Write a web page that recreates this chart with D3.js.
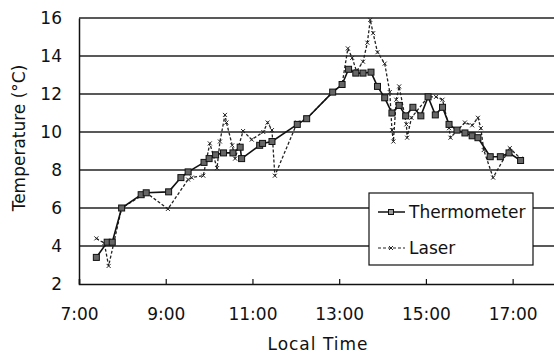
<!DOCTYPE html>
<html>
<head>
<meta charset="utf-8">
<script src="https://cdn.jsdelivr.net/npm/d3@7/dist/d3.min.js"></script>
<style>
  body { margin: 0; background: #fff; }
  svg text { font-family: "DejaVu Sans", sans-serif; fill: #111; }
</style>
</head>
<body>
<div id="chart"></div>
<script>
// readings, local time "h:mm" and temperature in degC
var thermoTimes = ["7:24","7:39","7:46","7:59","8:26","8:33","9:04","9:21","9:31","9:53",
  "10:00","10:09","10:20","10:33","10:43","10:45","11:10","11:14","11:27","12:02",
  "12:15","12:51","13:04","13:13","13:23","13:33","13:44","13:53","14:03","14:13",
  "14:23","14:32","14:42","14:53","15:03","15:13","15:23","15:32","15:43","15:54",
  "16:04","16:12","16:29","16:43","16:55","17:11"];
var thermoTemps = [3.4, 4.2, 4.2, 6.0, 6.7, 6.8, 6.85, 7.6, 7.9, 8.4,
  8.6, 8.8, 8.9, 8.9, 9.2, 8.6, 9.3, 9.4, 9.5, 10.4,
  10.7, 12.1, 12.5, 13.3, 13.1, 13.1, 13.15, 12.4, 11.8, 11.0,
  11.4, 10.85, 11.3, 10.85, 11.85, 10.9, 11.3, 10.4, 10.1, 9.95,
  9.8, 9.7, 8.7, 8.7, 8.9, 8.5];

var laserTimes = ["7:24","7:35","7:41","7:59","8:33","9:03","9:31","9:36","9:52","10:01",
  "10:11","10:15","10:22","10:24","10:32","10:36","10:47","10:59","11:15","11:21",
  "11:27","11:31","12:02","12:15","12:51","13:04","13:12","13:18","13:24","13:33",
  "13:39","13:43","13:47","13:53","14:03","14:10","14:13","14:15","14:19","14:23",
  "14:33","14:34","14:40","15:03","15:14","15:23","15:32","15:34","15:54","16:04",
  "16:12","16:16","16:20","16:33","16:56","17:11"];
var laserTemps = [4.4, 4.15, 2.95, 6.0, 6.8, 5.95, 7.5, 7.6, 7.7, 9.4,
  8.1, 9.5, 10.9, 10.5, 9.3, 8.6, 10.05, 9.6, 10.0, 10.5,
  10.1, 7.7, 10.5, 10.7, 12.1, 12.5, 14.4, 13.9, 13.2, 13.7,
  14.7, 15.9, 15.2, 14.2, 13.6, 12.1, 10.1, 9.5, 11.7, 12.4,
  10.4, 9.7, 10.75, 11.85, 11.85, 11.7, 10.2, 9.7, 10.5, 10.35,
  10.75, 10.2, 9.05, 7.6, 9.15, 8.6];

var xTickHours = [7, 9, 11, 13, 15, 17];
var yTicks = [2, 4, 6, 8, 10, 12, 14, 16];

function toHours(s) {
  var p = s.split(":");
  return +p[0] + (+p[1]) / 60;
}

var thermo = thermoTimes.map(function(t, i) { return {h: toHours(t), v: thermoTemps[i]}; });
var laser = laserTimes.map(function(t, i) { return {h: toHours(t), v: laserTemps[i]}; });

var width = 554, height = 356;
var margin = {left: 79, top: 18, bottom: 284, right: 556};

var svg = d3.select("#chart").append("svg")
  .attr("width", width)
  .attr("height", height);

var x = d3.scaleLinear().domain([7, 18]).range([margin.left, margin.right]);
var y = d3.scaleLinear().domain([2, 16]).range([margin.bottom, margin.top]);

// gridlines
svg.append("g")
  .selectAll("line")
  .data(yTicks.filter(function(d) { return d > 2; }))
  .enter()
  .append("line")
  .attr("x1", margin.left).attr("x2", width)
  .attr("y1", function(d) { return y(d); })
  .attr("y2", function(d) { return y(d); })
  .attr("stroke", "#222")
  .attr("stroke-width", 1.3);

// y axis
var yAxis = svg.append("g")
  .attr("transform", "translate(" + margin.left + ",0)")
  .call(d3.axisLeft(y).tickValues(yTicks).tickSize(0).tickPadding(17));
yAxis.select(".domain").attr("stroke", "#111").attr("stroke-width", 1.5);
yAxis.selectAll("text").attr("font-size", 17);

// x axis, ticks point up into the plot
var xAxis = svg.append("g")
  .attr("transform", "translate(0," + margin.bottom + ")")
  .call(d3.axisBottom(x).tickValues(xTickHours).tickSize(-5).tickPadding(24)
    .tickFormat(function(d) { return d + ":00"; }));
xAxis.select(".domain").attr("stroke", "#111").attr("stroke-width", 1.5);
xAxis.selectAll(".tick line").attr("stroke", "#111").attr("stroke-width", 1.2);
xAxis.selectAll("text").attr("font-size", 17);

svg.append("text")
  .attr("x", 318).attr("y", 350)
  .attr("text-anchor", "middle")
  .attr("font-size", 17)
  .attr("letter-spacing", 1)
  .text("Local Time");

svg.append("text")
  .attr("transform", "translate(25,138) rotate(-90)")
  .attr("text-anchor", "middle")
  .attr("font-size", 17)
  .text("Temperature (\u00B0C)");

var line = d3.line()
  .x(function(d) { return x(d.h); })
  .y(function(d) { return y(d.v); });

// laser (dashed, small x marks)
svg.append("path")
  .datum(laser)
  .attr("fill", "none")
  .attr("stroke", "#222")
  .attr("stroke-width", 1.3)
  .attr("stroke-dasharray", "3,2")
  .attr("d", line);

svg.append("g")
  .selectAll("path")
  .data(laser)
  .enter()
  .append("path")
  .attr("transform", function(d) { return "translate(" + x(d.h) + "," + y(d.v) + ")"; })
  .attr("d", "M-2,-2L2,2M-2,2L2,-2")
  .attr("stroke", "#222")
  .attr("stroke-width", 1);

// thermometer (solid, square marks)
svg.append("path")
  .datum(thermo)
  .attr("fill", "none")
  .attr("stroke", "#111")
  .attr("stroke-width", 1.6)
  .attr("d", line);

svg.append("g")
  .selectAll("rect")
  .data(thermo)
  .enter()
  .append("rect")
  .attr("x", function(d) { return x(d.h) - 3; })
  .attr("y", function(d) { return y(d.v) - 3; })
  .attr("width", 6).attr("height", 6)
  .attr("fill", "#666")
  .attr("stroke", "#111")
  .attr("stroke-width", 1);

// legend
var legend = svg.append("g").attr("transform", "translate(369,193)");
legend.append("rect")
  .attr("width", 164).attr("height", 72)
  .attr("fill", "#fff")
  .attr("stroke", "#111")
  .attr("stroke-width", 1.2);

legend.append("line")
  .attr("x1", 9).attr("x2", 36).attr("y1", 19).attr("y2", 19)
  .attr("stroke", "#111").attr("stroke-width", 1.5);
legend.append("rect")
  .attr("x", 19.5).attr("y", 16.5).attr("width", 5).attr("height", 5)
  .attr("fill", "#999").attr("stroke", "#111");
legend.append("text")
  .attr("x", 40).attr("y", 19).attr("dy", "0.36em")
  .attr("font-size", 17)
  .text("Thermometer");

legend.append("line")
  .attr("x1", 9).attr("x2", 36).attr("y1", 55).attr("y2", 55)
  .attr("stroke", "#222").attr("stroke-width", 1.2)
  .attr("stroke-dasharray", "3,2");
legend.append("path")
  .attr("transform", "translate(22,55)")
  .attr("d", "M-2,-2L2,2M-2,2L2,-2")
  .attr("stroke", "#222");
legend.append("text")
  .attr("x", 40).attr("y", 55).attr("dy", "0.36em")
  .attr("font-size", 17)
  .text("Laser");
</script>
</body>
</html>
